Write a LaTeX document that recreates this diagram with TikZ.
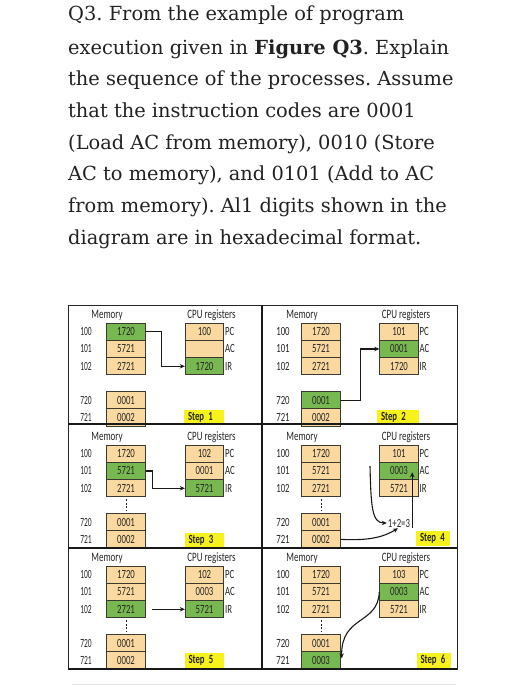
\documentclass[tikz,border=0pt]{standalone}
\usepackage{fontspec}
\setmainfont{DejaVu Serif}
\newfontfamily\dfont[FakeStretch=0.7]{Carlito}
\newfontfamily\dfontn[FakeStretch=0.6]{Carlito}
\usetikzlibrary{arrows.meta}

\definecolor{cellor}{HTML}{FAD9A0}
\definecolor{cellgr}{HTML}{78B850}
\definecolor{stepy}{HTML}{F7F21C}
\definecolor{celled}{HTML}{3C3A30}
\definecolor{qtext}{HTML}{222222}
\definecolor{dtext}{HTML}{262626}

\tikzset{
  cell/.style={draw=celled, line width=0.9pt, minimum width=38.5pt, minimum height=17.3pt,
    inner sep=0pt, font=\dfont\fontsize{12.5}{12}\selectfont, text=dtext},
  addrL/.style={font=\dfontn\fontsize{12.5}{12}\selectfont, inner sep=0pt, text=dtext},
  addrR/.style={font=\dfont\fontsize{12.5}{12}\selectfont, inner sep=0pt, text=dtext},
  reglab/.style={font=\dfont\fontsize{12.5}{12}\selectfont, inner sep=0pt, text=dtext, anchor=west},
  title/.style={font=\dfont\fontsize{12.8}{12}\selectfont, inner sep=0pt, text=dtext},
  stepbox/.style={fill=stepy, minimum height=15pt, inner ysep=0pt, inner xsep=4pt,
    align=left, font=\dfont\bfseries\fontsize{12.5}{12}\selectfont, text=dtext},
  conn/.style={line width=1.1pt, draw=black!90, -{Stealth[length=5pt,width=4.5pt]}},
  dotline/.style={line width=0.8pt, draw=dtext, dash pattern=on 2pt off 1.5pt,
    shorten >=2pt, shorten <=2pt},
  qline/.style={anchor=base west, inner sep=0pt, font=\fontsize{19.4}{19}\selectfont, text=qtext},
  outer/.style={line width=1pt, draw=black!85},
  divider/.style={line width=1.6pt, draw=black!90},
}

% #1 id, #2 addr x, #3 mem centre x, #4 reg centre x, #5 bottom y,
% #6 memory list, #7 register list, #8 address style
\newcommand\mypanel[8]{%
  \node[title] (#1mt) at ({#3-19},{#5-111}) {Memory};
  \node[title] (#1rt) at ({#4+7},{#5-111}) {CPU registers};
  \foreach \c/\t/\a [count=\i] in {#6} {
    \pgfmathsetmacro\dy{{94.35,77.05,59.75,25.95,8.65}[\i-1]}
    \node[cell, fill=\c] (#1m\i) at (#3,{#5-\dy}) {\t};
    \node[#8] (#1a\i) at (#2,{#5-\dy}) {\a};
  }
  \foreach \c/\t/\l [count=\i] in {#7} {
    \pgfmathsetmacro\dy{{94.35,77.05,59.75}[\i-1]}
    \node[cell, fill=\c] (#1r\i) at (#4,{#5-\dy}) {\t};
    \node[reglab] (#1l\i) at ({#4+20.5},{#5-\dy}) {\l};
  }
}

\begin{document}
\frenchspacing
\begin{tikzpicture}[x=1pt,y=-1pt]
\useasboundingbox[fill=white] (0,0) rectangle (516,688);

% question text
\node[qline] (q1) at (68,20) {Q3. From the example of program};
\node[qline] (q2) at (68,54) {execution given in \textbf{Figure Q3}. Explain};
\node[qline] (q3) at (68,85) {the sequence of the processes. Assume};
\node[qline] (q4) at (68,117) {that the instruction codes are 0001};
\node[qline] (q5) at (68,149) {(Load AC from memory), 0010 (Store};
\node[qline] (q6) at (68,180) {AC to memory), and 0101 (Add to AC};
\node[qline] (q7) at (68,212) {from memory). Al1 digits shown in the};
\node[qline] (q8) at (68,244) {diagram are in hexadecimal format.};

% panels
\mypanel{p1}{86}{126}{204.5}{426}
  {cellgr/1720/100, cellor/5721/101, cellor/2721/102, cellor/0001/720, cellor/0002/721}
  {cellor/100/PC, cellor/{}/AC, cellgr/1720/IR}{addrL}
\mypanel{p2}{283}{321}{399}{426}
  {cellor/1720/100, cellor/5721/101, cellor/2721/102, cellgr/0001/720, cellor/0002/721}
  {cellor/101/PC, cellgr/0001/AC, cellor/1720/IR}{addrR}
\mypanel{p3}{86}{126}{204.5}{548}
  {cellor/1720/100, cellgr/5721/101, cellor/2721/102, cellor/0001/720, cellor/0002/721}
  {cellor/102/PC, cellor/0001/AC, cellgr/5721/IR}{addrL}
\mypanel{p4}{283}{321}{399}{548}
  {cellor/1720/100, cellor/5721/101, cellor/2721/102, cellor/0001/720, cellor/0002/721}
  {cellor/101/PC, cellgr/0003/AC, cellor/5721/IR}{addrR}
\mypanel{p5}{86}{126}{204.5}{669}
  {cellor/1720/100, cellor/5721/101, cellgr/2721/102, cellor/0001/720, cellor/0002/721}
  {cellor/102/PC, cellor/0003/AC, cellgr/5721/IR}{addrL}
\mypanel{p6}{283}{321}{399}{669}
  {cellor/1720/100, cellor/5721/101, cellor/2721/102, cellor/0001/720, cellgr/0003/721}
  {cellor/103/PC, cellgr/0003/AC, cellor/5721/IR}{addrR}

% step labels
\node[stepbox, text width=32pt] (s1) at (204,417) {Step 1};
\node[stepbox, text width=34pt] (s2) at (398,417) {Step 2};
\node[stepbox, text width=31pt] (s3) at (204,540) {Step 3};
\node[stepbox, text width=26pt] (s4) at (433,538) {Step 4};
\node[stepbox, text width=31pt] (s5) at (204,660) {Step 5};
\node[stepbox, text width=26pt] (s6) at (433.5,660) {Step 6};

% frame
\draw[outer] (68,305) rectangle (457,669);
\draw[divider] (262,305) -- (262,669);
\draw[divider] (68,424) -- (457,424);
\draw[divider] (68,548) -- (457,548);
\draw[divider] (68,669) -- (457,669);
\draw[line width=0.8pt, draw=black!10] (72,684) -- (456,684);

% dotted continuation marks
\foreach \p in {p3,p4,p5,p6} \draw[dotline] (\p m3.south) -- (\p m4.north);

% connectors
\draw[conn] (p1m1.east) -- ++(16,0) |- (p1r3.west);
\draw[conn] (p2m4.east) -- ++(20,0) |- (p2r2.west);
\draw[conn] (p3m2.east) -- ++(7,0) |- (p3r3.west);
\draw[conn] ([xshift=6pt]p5m3.east) -- (p5r3.west);

\node[font=\dfont\fontsize{12.5}{12}\selectfont, inner sep=1pt, text=dtext] (p4sum) at (399,523) {1+2=3};
\coordinate (p4src) at (370,466);
\draw[conn] (p4src) .. controls (371,507) and (372,523) .. (p4sum.west);
\draw[conn] (p4m5.east) .. controls (372,541) and (385,536) .. ([xshift=-1pt]p4sum.south);
\draw[conn] ([xshift=1pt]p4sum.south east) -- ++(0,-56);

\draw[conn] (p6r2.west) .. controls (378,625) and (341,615) .. ([xshift=1pt,yshift=2pt]p6m5.east);
\end{tikzpicture}
\end{document}
